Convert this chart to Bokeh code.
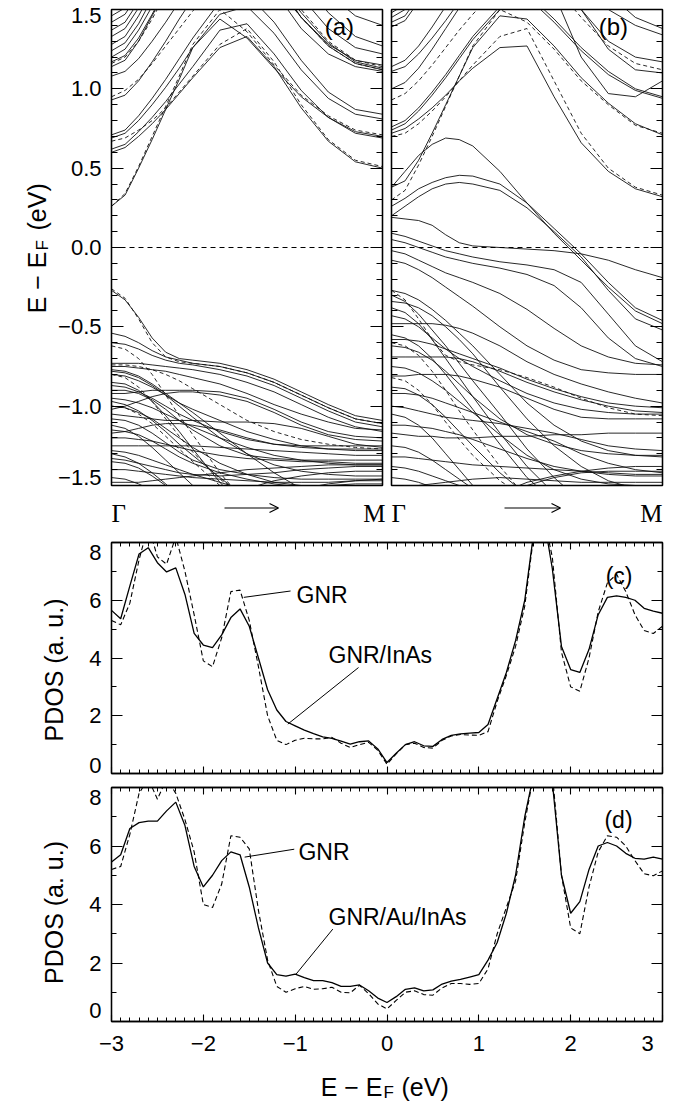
import math
from bokeh.plotting import figure
from bokeh.layouts import column, row
from bokeh.models import Range1d, LinearAxis, FixedTicker, Label, Arrow, OpenHead, Span
from bokeh.embed import file_html
from bokeh.resources import INLINE

SANS = "Liberation Sans"
SERIF = "Liberation Serif"

# ---------------- band structure data (k from Gamma=0 to M=1) ----------------
K = [0.0, 0.05, 0.1, 0.15, 0.2, 0.25, 0.3, 0.4, 0.5, 0.6, 0.7, 0.8, 0.9, 1.0]

# (a) GNR/InAs bands (solid)
A_SOLID = [
    [0.26, 0.33, 0.50, 0.68, 0.87, 1.06, 1.26, 1.44, 1.32, 1.13, 0.95, 0.82, 0.73, 0.70],
    [0.60, 0.63, 0.70, 0.78, 0.87, 0.97, 1.07, 1.26, 1.33, 1.14, 0.88, 0.67, 0.54, 0.50],
    [0.62, 0.65, 0.73, 0.82, 0.92, 1.03, 1.14, 1.37, 1.41, 1.22, 0.99, 0.82, 0.72, 0.69],
    [0.69, 0.72, 0.80, 0.90, 1.01, 1.13, 1.26, 1.47, 1.52, 1.35, 1.12, 0.94, 0.84, 0.81],
    [0.71, 0.74, 0.83, 0.94, 1.06, 1.19, 1.32, 1.55, 1.60, 1.42, 1.18, 0.98, 0.87, 0.84],
    [0.93, 0.96, 1.05, 1.17, 1.30, 1.44, 1.57, 1.75, 1.80, 1.68, 1.45, 1.27, 1.16, 1.12],
    [1.08, 1.11, 1.19, 1.30, 1.42, 1.55, 1.67, 1.85, 1.85, 1.70, 1.48, 1.29, 1.17, 1.13],
    [1.14, 1.18, 1.30, 1.46, 1.62, 1.75, 1.85, 1.95, 1.92, 1.62, 1.38, 1.22, 1.14, 1.11],
    [1.17, 1.21, 1.32, 1.47, 1.63, 1.78, 1.90, 2.00, 1.98, 1.70, 1.45, 1.28, 1.18, 1.15],
    [1.20, 1.25, 1.37, 1.52, 1.68, 1.82, 1.93, 2.05, 2.05, 1.85, 1.58, 1.38, 1.26, 1.22],
    [1.24, 1.29, 1.41, 1.57, 1.73, 1.87, 1.98, 2.10, 2.10, 1.95, 1.70, 1.48, 1.33, 1.27],
    [1.28, 1.33, 1.46, 1.62, 1.78, 1.92, 2.03, 2.15, 2.15, 2.05, 1.82, 1.60, 1.46, 1.40],
    [1.33, 1.38, 1.51, 1.67, 1.83, 1.97, 2.08, 2.20, 2.20, 2.10, 1.92, 1.72, 1.58, 1.53],
    [1.37, 1.42, 1.55, 1.71, 1.87, 2.01, 2.12, 2.25, 2.25, 2.15, 1.98, 1.80, 1.68, 1.63],
    [1.42, 1.47, 1.60, 1.76, 1.92, 2.06, 2.17, 2.30, 2.30, 2.20, 2.05, 1.90, 1.78, 1.73],
    [1.46, 1.51, 1.64, 1.80, 1.96, 2.10, 2.21, 2.35, 2.35, 2.25, 2.10, 1.96, 1.85, 1.80],
    [-0.27, -0.33, -0.44, -0.57, -0.66, -0.70, -0.71, -0.73, -0.77, -0.83, -0.91, -0.99, -1.06, -1.09],
    [-0.54, -0.56, -0.60, -0.65, -0.69, -0.71, -0.73, -0.75, -0.79, -0.85, -0.93, -1.01, -1.08, -1.11],
    [-0.60, -0.61, -0.64, -0.68, -0.71, -0.73, -0.74, -0.77, -0.81, -0.87, -0.95, -1.03, -1.10, -1.13],
    [-0.73, -0.73, -0.73, -0.74, -0.75, -0.76, -0.77, -0.80, -0.85, -0.91, -0.99, -1.07, -1.13, -1.16],
    [-0.77, -0.78, -0.81, -0.86, -0.92, -0.98, -1.04, -1.17, -1.30, -1.42, -1.52, -1.60, -1.65, -1.67],
    [-0.80, -0.81, -0.84, -0.88, -0.93, -0.98, -1.02, -1.09, -1.16, -1.21, -1.25, -1.27, -1.28, -1.28],
    [-0.85, -0.86, -0.90, -0.97, -1.06, -1.16, -1.27, -1.48, -1.66, -1.80, -1.90, -1.95, -1.98, -2.00],
    [-0.92, -0.92, -0.91, -0.90, -0.90, -0.90, -0.90, -0.91, -0.95, -1.02, -1.10, -1.16, -1.19, -1.20],
    [-1.02, -1.00, -0.97, -0.94, -0.92, -0.91, -0.91, -0.93, -0.97, -1.04, -1.12, -1.18, -1.21, -1.22],
    [-0.97, -0.99, -1.03, -1.09, -1.16, -1.24, -1.31, -1.45, -1.58, -1.70, -1.80, -1.88, -1.93, -1.95],
    [-1.05, -1.06, -1.07, -1.08, -1.09, -1.09, -1.09, -1.10, -1.10, -1.11, -1.14, -1.19, -1.24, -1.26],
    [-0.87, -0.88, -0.91, -0.95, -1.00, -1.05, -1.09, -1.16, -1.21, -1.24, -1.25, -1.25, -1.25, -1.25],
    [-1.17, -1.16, -1.14, -1.12, -1.11, -1.11, -1.12, -1.15, -1.20, -1.24, -1.26, -1.27, -1.27, -1.27],
    [-1.20, -1.20, -1.21, -1.22, -1.24, -1.26, -1.28, -1.31, -1.33, -1.34, -1.35, -1.35, -1.36, -1.36],
    [-1.25, -1.25, -1.25, -1.25, -1.25, -1.25, -1.25, -1.26, -1.27, -1.28, -1.29, -1.30, -1.31, -1.31],
    [-1.30, -1.32, -1.36, -1.42, -1.49, -1.57, -1.64, -1.78, -1.90, -2.00, -2.00, -2.00, -2.00, -2.00],
    [-1.33, -1.34, -1.36, -1.38, -1.40, -1.42, -1.43, -1.44, -1.43, -1.42, -1.40, -1.39, -1.38, -1.38],
    [-1.40, -1.40, -1.41, -1.42, -1.43, -1.44, -1.45, -1.46, -1.47, -1.48, -1.48, -1.48, -1.47, -1.47],
    [-1.12, -1.14, -1.19, -1.26, -1.34, -1.42, -1.50, -1.65, -1.78, -1.88, -1.95, -2.00, -2.00, -2.00],
    [-1.15, -1.16, -1.18, -1.22, -1.27, -1.32, -1.36, -1.42, -1.46, -1.49, -1.51, -1.52, -1.52, -1.52],
    [-0.78, -0.79, -0.82, -0.87, -0.93, -1.00, -1.07, -1.20, -1.30, -1.37, -1.41, -1.43, -1.44, -1.44],
    [-0.95, -0.96, -0.98, -1.01, -1.05, -1.09, -1.13, -1.20, -1.26, -1.31, -1.34, -1.36, -1.37, -1.37],
    [-1.00, -1.01, -1.04, -1.08, -1.14, -1.20, -1.26, -1.36, -1.43, -1.48, -1.50, -1.51, -1.51, -1.51],
    [-1.28, -1.29, -1.31, -1.34, -1.37, -1.40, -1.43, -1.48, -1.53, -1.57, -1.60, -1.61, -1.62, -1.62],
    [-1.45, -1.46, -1.49, -1.53, -1.58, -1.63, -1.68, -1.75, -1.80, -1.82, -1.83, -1.83, -1.83, -1.83],
    [-1.48, -1.48, -1.48, -1.47, -1.46, -1.45, -1.44, -1.42, -1.40, -1.39, -1.38, -1.37, -1.37, -1.37],
    [-1.70, -1.70, -1.70, -1.70, -1.70, -1.68, -1.65, -1.58, -1.52, -1.47, -1.44, -1.42, -1.41, -1.41],
    [-1.52, -1.52, -1.53, -1.54, -1.55, -1.56, -1.57, -1.57, -1.56, -1.54, -1.52, -1.50, -1.49, -1.49],
    [-0.90, -0.90, -0.92, -0.96, -1.02, -1.09, -1.15, -1.25, -1.31, -1.33, -1.34, -1.34, -1.34, -1.34],
    [-1.08, -1.09, -1.12, -1.17, -1.23, -1.29, -1.34, -1.40, -1.43, -1.45, -1.46, -1.46, -1.46, -1.46],
    [-0.75, -0.75, -0.76, -0.77, -0.78, -0.80, -0.82, -0.86, -0.92, -0.99, -1.05, -1.10, -1.14, -1.15],
    [-1.35, -1.36, -1.39, -1.44, -1.50, -1.56, -1.60, -1.62, -1.60, -1.56, -1.52, -1.49, -1.47, -1.46],
]

# (a) free GNR bands (dashed)
A_DASHED = [
    [0.26, 0.34, 0.51, 0.70, 0.89, 1.08, 1.28, 1.50, 1.36, 1.15, 0.96, 0.83, 0.74, 0.71],
    [0.67, 0.69, 0.74, 0.80, 0.88, 0.98, 1.08, 1.28, 1.38, 1.17, 0.90, 0.68, 0.55, 0.51],
    [0.95, 0.99, 1.06, 1.16, 1.27, 1.38, 1.49, 1.70, 1.78, 1.66, 1.45, 1.27, 1.16, 1.12],
    [1.16, 1.20, 1.30, 1.44, 1.60, 1.76, 1.90, 2.00, 2.00, 1.80, 1.50, 1.30, 1.18, 1.14],
    [-0.26, -0.32, -0.45, -0.60, -0.69, -0.72, -0.73, -0.75, -0.79, -0.85, -0.93, -1.01, -1.08, -1.11],
    [-0.62, -0.64, -0.70, -0.80, -0.93, -1.06, -1.18, -1.42, -1.62, -1.78, -1.90, -2.00, -2.00, -2.00],
    [-0.80, -0.82, -0.88, -0.97, -1.08, -1.19, -1.29, -1.46, -1.58, -1.68, -1.75, -1.80, -1.82, -1.83],
    [-1.00, -1.01, -1.05, -1.11, -1.19, -1.27, -1.35, -1.50, -1.62, -1.72, -1.80, -1.85, -1.88, -1.90],
    [-0.74, -0.74, -0.75, -0.77, -0.80, -0.84, -0.89, -0.99, -1.09, -1.16, -1.21, -1.24, -1.26, -1.27],
]

# (b) GNR/Au/InAs bands (solid)
B_SOLID = [
    [0.38, 0.42, 0.55, 0.72, 0.90, 1.08, 1.26, 1.46, 1.44, 1.27, 1.07, 0.91, 0.78, 0.71],
    [0.72, 0.75, 0.81, 0.88, 0.96, 1.05, 1.13, 1.26, 1.27, 0.95, 0.66, 0.48, 0.37, 0.32],
    [0.74, 0.78, 0.86, 0.96, 1.07, 1.19, 1.31, 1.50, 1.58, 1.42, 1.24, 1.09, 0.99, 0.94],
    [0.76, 0.80, 0.88, 0.98, 1.09, 1.21, 1.33, 1.52, 1.60, 1.44, 1.26, 1.11, 1.00, 0.95],
    [1.00, 1.04, 1.13, 1.25, 1.38, 1.51, 1.64, 1.85, 1.90, 1.75, 1.50, 1.30, 1.20, 1.17],
    [1.11, 1.14, 1.22, 1.32, 1.43, 1.55, 1.66, 1.85, 1.90, 1.60, 1.20, 0.97, 0.95, 1.05],
    [1.14, 1.18, 1.27, 1.39, 1.52, 1.65, 1.78, 1.95, 2.00, 1.85, 1.50, 1.25, 1.12, 1.10],
    [1.39, 1.43, 1.55, 1.70, 1.85, 2.00, 2.10, 2.20, 2.20, 1.95, 1.70, 1.50, 1.40, 1.34],
    [1.42, 1.46, 1.58, 1.74, 1.90, 2.05, 2.15, 2.25, 2.25, 2.05, 1.85, 1.60, 1.45, 1.38],
    [1.45, 1.50, 1.63, 1.79, 1.95, 2.10, 2.20, 2.30, 2.30, 2.20, 2.00, 1.75, 1.58, 1.52],
    [1.48, 1.53, 1.66, 1.82, 1.98, 2.13, 2.23, 2.35, 2.35, 2.25, 2.10, 1.90, 1.72, 1.65],
    [0.38, 0.48, 0.58, 0.65, 0.69, 0.68, 0.64, 0.48, 0.28, 0.09, -0.08, -0.25, -0.40, -0.48],
    [0.26, 0.31, 0.37, 0.41, 0.44, 0.455, 0.45, 0.40, 0.28, 0.12, -0.04, -0.22, -0.38, -0.46],
    [0.20, 0.26, 0.32, 0.37, 0.40, 0.41, 0.40, 0.36, 0.25, 0.10, -0.06, -0.27, -0.45, -0.52],
    [0.19, 0.18, 0.17, 0.14, 0.08, 0.03, 0.01, 0.00, -0.01, -0.02, -0.04, -0.08, -0.14, -0.19],
    [0.09, 0.07, 0.04, 0.01, -0.02, -0.04, -0.06, -0.09, -0.11, -0.14, -0.22, -0.42, -0.62, -0.72],
    [0.05, 0.03, 0.00, -0.03, -0.06, -0.08, -0.10, -0.13, -0.17, -0.24, -0.38, -0.57, -0.70, -0.75],
    [-0.02, -0.04, -0.08, -0.12, -0.16, -0.19, -0.22, -0.29, -0.39, -0.51, -0.62, -0.69, -0.73, -0.74],
    [-0.08, -0.10, -0.14, -0.19, -0.25, -0.31, -0.37, -0.50, -0.62, -0.71, -0.77, -0.79, -0.80, -0.80],
    [-0.48, -0.48, -0.48, -0.48, -0.49, -0.51, -0.54, -0.62, -0.72, -0.80, -0.86, -0.91, -0.95, -0.98],
    [-0.69, -0.69, -0.69, -0.69, -0.69, -0.70, -0.72, -0.78, -0.85, -0.91, -0.96, -1.00, -1.03, -1.04],
    [-0.81, -0.81, -0.80, -0.80, -0.80, -0.81, -0.83, -0.88, -0.95, -1.02, -1.07, -1.08, -1.08, -1.08],
    [-0.30, -0.34, -0.42, -0.52, -0.62, -0.73, -0.84, -1.05, -1.27, -1.45, -1.60, -1.70, -1.75, -1.78],
    [-0.38, -0.41, -0.48, -0.58, -0.70, -0.82, -0.94, -1.17, -1.38, -1.55, -1.70, -1.80, -1.85, -1.88],
    [-1.00, -1.01, -1.03, -1.05, -1.07, -1.08, -1.09, -1.11, -1.14, -1.17, -1.21, -1.25, -1.27, -1.28],
    [-1.17, -1.18, -1.19, -1.19, -1.20, -1.20, -1.20, -1.19, -1.19, -1.18, -1.18, -1.17, -1.17, -1.17],
    [-1.80, -1.80, -1.80, -1.80, -1.75, -1.70, -1.65, -1.55, -1.48, -1.44, -1.41, -1.39, -1.38, -1.38],
    [-0.27, -0.29, -0.33, -0.39, -0.46, -0.54, -0.62, -0.80, -0.98, -1.12, -1.22, -1.28, -1.31, -1.32],
    [-0.43, -0.45, -0.50, -0.57, -0.64, -0.70, -0.75, -0.84, -0.92, -0.98, -1.02, -1.04, -1.05, -1.05],
    [-0.55, -0.57, -0.62, -0.70, -0.80, -0.91, -1.02, -1.24, -1.45, -1.60, -1.72, -1.80, -1.85, -1.87],
    [-0.62, -0.63, -0.66, -0.71, -0.78, -0.86, -0.94, -1.08, -1.18, -1.24, -1.28, -1.30, -1.31, -1.31],
    [-0.88, -0.89, -0.93, -0.99, -1.07, -1.16, -1.25, -1.42, -1.56, -1.67, -1.75, -1.80, -1.82, -1.83],
    [-0.92, -0.92, -0.93, -0.95, -0.98, -1.01, -1.04, -1.10, -1.16, -1.22, -1.30, -1.36, -1.40, -1.42],
    [-1.05, -1.07, -1.12, -1.20, -1.30, -1.40, -1.50, -1.65, -1.76, -1.85, -1.90, -1.93, -1.95, -1.95],
    [-1.12, -1.12, -1.13, -1.14, -1.16, -1.18, -1.21, -1.27, -1.33, -1.38, -1.41, -1.43, -1.44, -1.44],
    [-1.25, -1.26, -1.29, -1.34, -1.40, -1.46, -1.52, -1.60, -1.65, -1.68, -1.70, -1.70, -1.70, -1.70],
    [-1.32, -1.32, -1.33, -1.34, -1.35, -1.36, -1.37, -1.38, -1.39, -1.40, -1.41, -1.42, -1.43, -1.43],
    [-1.45, -1.46, -1.48, -1.51, -1.55, -1.59, -1.63, -1.68, -1.70, -1.70, -1.70, -1.70, -1.70, -1.70],
    [-0.75, -0.76, -0.79, -0.84, -0.90, -0.97, -1.04, -1.18, -1.31, -1.40, -1.46, -1.49, -1.50, -1.50],
    [-1.50, -1.50, -1.50, -1.49, -1.48, -1.47, -1.46, -1.45, -1.46, -1.47, -1.48, -1.48, -1.48, -1.48],
    [-0.58, -0.58, -0.59, -0.61, -0.64, -0.67, -0.70, -0.76, -0.83, -0.89, -0.94, -0.98, -1.00, -1.01],
    [-0.34, -0.35, -0.38, -0.43, -0.50, -0.58, -0.67, -0.88, -1.08, -1.25, -1.38, -1.47, -1.52, -1.54],
    [-1.38, -1.39, -1.41, -1.44, -1.47, -1.50, -1.53, -1.56, -1.57, -1.56, -1.55, -1.53, -1.52, -1.52],
    [-1.60, -1.60, -1.60, -1.60, -1.60, -1.60, -1.58, -1.55, -1.50, -1.45, -1.42, -1.41, -1.41, -1.41],
]

# (b) free GNR bands (dashed)
B_DASHED = [
    [0.30, 0.36, 0.52, 0.70, 0.89, 1.08, 1.27, 1.50, 1.42, 1.25, 1.05, 0.90, 0.77, 0.72],
    [0.70, 0.72, 0.78, 0.86, 0.95, 1.05, 1.15, 1.33, 1.38, 1.05, 0.72, 0.50, 0.38, 0.33],
    [0.93, 0.97, 1.05, 1.15, 1.26, 1.37, 1.47, 1.65, 1.75, 1.65, 1.45, 1.27, 1.16, 1.12],
    [-0.27, -0.33, -0.45, -0.58, -0.68, -0.72, -0.74, -0.77, -0.82, -0.88, -0.95, -1.01, -1.05, -1.06],
    [-0.60, -0.62, -0.68, -0.78, -0.90, -1.03, -1.15, -1.38, -1.58, -1.75, -1.90, -2.00, -2.00, -2.00],
    [-0.82, -0.84, -0.90, -0.99, -1.10, -1.21, -1.31, -1.47, -1.58, -1.66, -1.72, -1.76, -1.78, -1.79],
]

# ---------------- PDOS data ----------------
E = [-3.0, -2.9, -2.8, -2.7, -2.6, -2.5, -2.4, -2.3, -2.2, -2.1,
     -2.0, -1.9, -1.8, -1.7, -1.6, -1.5, -1.4, -1.3, -1.2, -1.1,
     -1.0, -0.9, -0.8, -0.7, -0.6, -0.5, -0.4, -0.3, -0.2, -0.1,
     0.0, 0.1, 0.2, 0.3, 0.4, 0.5, 0.6, 0.7, 0.8, 0.9,
     1.0, 1.1, 1.2, 1.3, 1.4, 1.5, 1.6, 1.7, 1.8, 1.9,
     2.0, 2.1, 2.2, 2.3, 2.4, 2.5, 2.6, 2.7, 2.8, 2.9, 3.0]

C_GNR_INAS = [5.65, 5.36, 6.50, 7.60, 7.82, 7.30, 6.98, 7.12, 6.20, 4.85,
              4.45, 4.36, 4.80, 5.40, 5.70, 5.10, 4.00, 2.90, 2.20, 1.80,
              1.65, 1.50, 1.38, 1.27, 1.22, 1.12, 1.02, 1.10, 1.13, 0.85,
              0.38, 0.70, 1.00, 1.10, 0.96, 0.94, 1.18, 1.32, 1.37, 1.40,
              1.42, 1.70, 2.60, 3.50, 4.60, 6.00, 8.40, 9.00, 7.10, 4.40,
              3.60, 3.50, 4.30, 5.50, 6.10, 6.15, 6.10, 6.00, 5.72, 5.62, 5.55]
C_GNR = [5.30, 5.15, 5.90, 7.40, 8.60, 7.50, 7.25, 8.20, 7.00, 5.50,
         3.90, 3.70, 4.70, 6.30, 6.35, 5.30, 3.70, 2.00, 1.15, 1.00,
         1.15, 1.22, 1.20, 1.20, 1.25, 1.05, 0.90, 1.00, 1.08, 0.80,
         0.32, 0.68, 1.00, 1.05, 0.90, 0.88, 1.15, 1.30, 1.35, 1.33,
         1.32, 1.45, 2.50, 3.40, 4.40, 5.80, 8.30, 9.00, 7.50, 4.20,
         3.00, 2.85, 4.00, 5.60, 6.60, 6.90, 6.30, 5.50, 4.95, 4.85, 5.10]
D_GNR_AU_INAS = [5.45, 5.70, 6.60, 6.80, 6.85, 6.85, 7.20, 7.50, 6.70, 5.30,
                 4.60, 5.00, 5.50, 5.80, 5.70, 4.60, 3.20, 2.00, 1.60, 1.55,
                 1.62, 1.50, 1.40, 1.40, 1.33, 1.20, 1.20, 1.25, 1.05, 0.80,
                 0.65, 0.85, 1.10, 1.15, 1.05, 1.08, 1.28, 1.38, 1.44, 1.52,
                 1.60, 2.10, 2.70, 3.70, 5.00, 7.00, 8.50, 9.00, 8.20, 5.00,
                 3.70, 4.10, 5.20, 6.00, 6.12, 6.00, 5.75, 5.58, 5.55, 5.62, 5.55]
D_GNR = [5.20, 5.30, 6.40, 7.80, 8.30, 7.60, 8.30, 7.80, 6.90, 5.80,
         4.00, 3.90, 4.70, 6.35, 6.30, 5.90, 3.80, 2.10, 1.20, 1.00,
         1.12, 1.20, 1.10, 1.12, 1.17, 1.00, 0.98, 1.24, 0.95, 0.60,
         0.43, 0.72, 1.00, 1.05, 0.92, 0.90, 1.15, 1.30, 1.30, 1.27,
         1.30, 1.80, 3.00, 3.90, 4.80, 6.80, 8.50, 9.00, 8.50, 5.00,
         3.20, 3.00, 4.60, 5.80, 6.35, 6.30, 6.00, 5.50, 5.05, 4.98, 5.15]

# ticks (the label rows put the edge labels slightly inside the frame,
# as in the original figure)
BAND_YTICKS = [-1.5, -1.0, -0.5, 0.0, 0.5, 1.0, 1.5]
BAND_LABEL_POS = [-1.448, -1.0, -0.5, 0.0, 0.5, 1.0, 1.46]
BAND_YLABELS = ["\u22121.5", "\u22121.0", "\u22120.5", "0.0", "0.5", "1.0", "1.5"]
PDOS_XTICKS = [-3, -2, -1, 0, 1, 2, 3]
PDOS_XLABEL_POS = [-3, -2, -1, 0, 1, 2, 2.837]
PDOS_XLABELS = ["\u22123", "\u22122", "\u22121", "0", "1", "2", "3"]
PDOS_YTICKS = [0, 2, 4, 6, 8]
C_YLABEL_POS = [0.277, 2, 4, 6, 7.664]
D_YLABEL_POS = [0.376, 2, 4, 6, 7.668]
PDOS_YLABELS = ["0", "2", "4", "6", "8"]

# annotation leader lines (data coordinates)
C_GNR_LEADER_X, C_GNR_LEADER_Y = [-1.56, -1.05], [6.10, 6.32]
C_INAS_LEADER_X, C_INAS_LEADER_Y = [-0.31, -1.08], [3.67, 1.71]
D_GNR_LEADER_X, D_GNR_LEADER_Y = [-1.55, -1.01], [5.62, 5.89]
D_AU_LEADER_X, D_AU_LEADER_Y = [-0.59, -0.99], [3.16, 1.62]

BAND_MINOR = [round(-1.5 + 0.1 * i, 2) for i in range(31)]
X_MINOR = [round(-3 + 0.1 * i, 2) for i in range(61)]
Y_MINOR = [1, 3, 5, 7]
HALF_PI = math.pi / 2


def make_fig(xr, yr, fw, fh, bl, br, bt, bb, outline=True):
    p = figure(x_range=Range1d(*xr), y_range=Range1d(*yr),
               frame_width=fw, frame_height=fh,
               min_border_left=bl, min_border_right=br,
               min_border_top=bt, min_border_bottom=bb,
               x_axis_type=None, y_axis_type=None,
               output_backend="svg", toolbar_location=None, title=None)
    p.outline_line_color = "black" if outline else None
    p.outline_line_width = 1.3
    p.background_fill_color = "white"
    p.border_fill_color = "white"
    return p


def strip(x0, x1, y0, y1):
    """Blank panel whose data coordinates are page pixels (y downwards)."""
    return make_fig((x0, x1), (y1, y0), x1 - x0, y1 - y0, 0, 0, 0, 0,
                    outline=False)


def tick_axis(p, side, ticks, minor, tin, tmin):
    ax = LinearAxis(ticker=FixedTicker(ticks=ticks, minor_ticks=minor))
    ax.major_tick_in = tin
    ax.major_tick_out = 0
    ax.minor_tick_in = tmin
    ax.minor_tick_out = 0
    ax.axis_line_color = "black"
    ax.axis_line_width = 1.3
    ax.major_tick_line_color = "black"
    ax.major_tick_line_width = 1.1
    ax.minor_tick_line_color = "black"
    ax.minor_tick_line_width = 1.0
    ax.major_label_overrides = {t: "" for t in ticks}
    ax.major_label_text_font_size = "0px"
    ax.major_label_standoff = 0
    p.add_layout(ax, side)


def label_axis(p, side, pos, labels, standoff):
    ax = LinearAxis(ticker=FixedTicker(ticks=pos, minor_ticks=[]))
    ax.major_tick_in = 0
    ax.major_tick_out = 0
    ax.axis_line_color = None
    ax.major_tick_line_color = None
    ax.minor_tick_line_color = None
    ax.major_label_overrides = dict(zip(pos, labels))
    ax.major_label_text_font = SANS
    ax.major_label_text_font_size = "22px"
    ax.major_label_text_color = "black"
    ax.major_label_standoff = standoff
    p.add_layout(ax, side)


def txt(p, x, y, text, size="22px", font=SANS, align="center",
        baseline="middle", angle=0.0):
    p.add_layout(Label(x=x, y=y, text=text, text_font=font,
                       text_font_size=size, text_align=align,
                       text_baseline=baseline, angle=angle,
                       text_color="black"))


def band_panel(solid, dashed, bl, br, letter, letter_x, with_labels):
    p = make_fig((0, 1), (-1.5, 1.5), 271, 476, bl, br, 9, 7)
    p.multi_line(xs=[K] * len(solid), ys=solid, line_color="#111111",
                 line_width=0.9)
    p.multi_line(xs=[K] * len(dashed), ys=dashed, line_color="#111111",
                 line_width=0.9, line_dash="4 3")
    p.add_layout(Span(location=0, dimension="width", line_color="black",
                      line_width=1, line_dash="5 4"))
    tick_axis(p, "left", BAND_YTICKS, BAND_MINOR, 12, 6)
    if with_labels:
        label_axis(p, "left", BAND_LABEL_POS, BAND_YLABELS, 10)
    tick_axis(p, "right", BAND_YTICKS, BAND_MINOR, 12, 6)
    txt(p, letter_x, 1.393, letter, size="24px")
    return p


# ---- row 1: band structures (page y 0..492) ----
sy1 = strip(0, 52, 0, 492)
txt(sy1, 36, 242, "E \u2212 E", size="25px", align="right",
    baseline="alphabetic", angle=HALF_PI)
txt(sy1, 42, 241, "F", size="17px", align="left",
    baseline="alphabetic", angle=HALF_PI)
txt(sy1, 36, 221, "(eV)", size="25px", align="left",
    baseline="alphabetic", angle=HALF_PI)
fa = band_panel(A_SOLID, A_DASHED, 59, 4, "(a)", 0.841, True)
fb = band_panel(B_SOLID, B_DASHED, 5, 6, "(b)", 0.819, False)

# ---- row 2: k-path labels (page y 492..530) ----
sg = strip(0, 668, 492, 530)
txt(sg, 111, 513, "\u0393", size="25px", font=SERIF, align="left",
    baseline="alphabetic")
txt(sg, 385, 513, "M", size="25px", font=SERIF, align="right",
    baseline="alphabetic")
txt(sg, 391, 513, "\u0393", size="25px", font=SERIF, align="left",
    baseline="alphabetic")
txt(sg, 662, 513, "M", size="25px", font=SERIF, align="right",
    baseline="alphabetic")
for xs, xe in ((224, 278), (504, 560)):
    sg.add_layout(Arrow(end=OpenHead(size=9, line_width=1.2, line_color="black"),
                        x_start=xs, y_start=507.5, x_end=xe, y_end=507.5,
                        line_color="black", line_width=1.2))


def pdos_panel(solid, dashed, fh, bt, bb, ylabel_pos, bottom_labels):
    p = make_fig((-3, 3), (0, 8), 551, fh, 43, 6, bt, bb)
    p.line(E, solid, line_color="black", line_width=1.3)
    p.line(E, dashed, line_color="black", line_width=1.1, line_dash="5 3")
    tick_axis(p, "left", PDOS_YTICKS, Y_MINOR, 11, 5)
    label_axis(p, "left", ylabel_pos, PDOS_YLABELS, 10)
    tick_axis(p, "right", PDOS_YTICKS, Y_MINOR, 11, 5)
    tick_axis(p, "below", PDOS_XTICKS, X_MINOR, 7, 4)
    if bottom_labels:
        label_axis(p, "below", PDOS_XLABEL_POS, PDOS_XLABELS, 14)
    tick_axis(p, "above", PDOS_XTICKS, X_MINOR, 7, 4)
    return p


# ---- row 3: PDOS (c) (page y 530..779) ----
syc = strip(0, 68, 530, 779)
txt(syc, 53, 657.5, "PDOS (a. u.)", size="25px", align="center",
    baseline="alphabetic", angle=HALF_PI)
fc = pdos_panel(C_GNR_INAS, C_GNR, 231, 12, 6, C_YLABEL_POS, False)
txt(fc, 2.527, 6.857, "(c)", size="23px")
txt(fc, -0.985, 6.165, "GNR", size="23px", align="left")
txt(fc, -0.637, 4.087, "GNR/InAs", size="23px", align="left")
fc.line(C_GNR_LEADER_X, C_GNR_LEADER_Y, line_color="black", line_width=1)
fc.line(C_INAS_LEADER_X, C_INAS_LEADER_Y, line_color="black", line_width=1)

# ---- row 4: PDOS (d) (page y 779..1058) ----
syd = strip(0, 68, 779, 1058)
txt(syd, 53, 904, "PDOS (a. u.)", size="25px", align="center",
    baseline="alphabetic", angle=HALF_PI)
fd = pdos_panel(D_GNR_AU_INAS, D_GNR, 234, 8, 37, D_YLABEL_POS, True)
txt(fd, 2.521, 6.872, "(d)", size="23px")
txt(fd, -0.964, 5.79, "GNR", size="23px", align="left")
txt(fd, -0.637, 3.566, "GNR/Au/InAs", size="23px", align="left")
fd.line(D_GNR_LEADER_X, D_GNR_LEADER_Y, line_color="black", line_width=1)
fd.line(D_AU_LEADER_X, D_AU_LEADER_Y, line_color="black", line_width=1)

# ---- row 5: x-axis title (page y 1058..1102) ----
sx = strip(0, 668, 1058, 1102)
txt(sx, 382, 1086, "E \u2212 E", size="25px", align="right",
    baseline="alphabetic")
txt(sx, 383, 1092, "F", size="17px", align="left", baseline="alphabetic")
txt(sx, 401, 1086, "(eV)", size="25px", align="left", baseline="alphabetic")

layout = column(row(sy1, fa, fb), sg, row(syc, fc), row(syd, fd), sx)
open("out.html", "w").write(file_html(layout, INLINE))
